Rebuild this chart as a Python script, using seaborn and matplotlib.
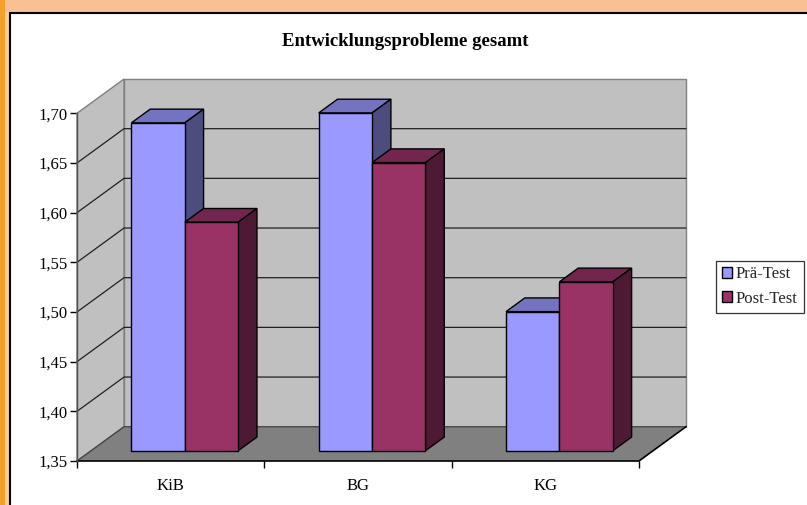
import numpy as np
import pandas as pd
import matplotlib.pyplot as plt
from matplotlib.patches import Polygon, Rectangle
from matplotlib.lines import Line2D
import seaborn as sns

# Data
groups = ['KiB', 'BG', 'KG']
series = ['Prä-Test', 'Post-Test']
pre_test = [1.68, 1.69, 1.49]
post_test = [1.58, 1.64, 1.52]
y_ticks = [1.35, 1.40, 1.45, 1.50, 1.55, 1.60, 1.65, 1.70]
title = 'Entwicklungsprobleme gesamt'

# Excel-like colours: front / top / side face
front_cols = ['#9999FF', '#993366']
top_cols = ['#7373BF', '#73264D']
side_cols = ['#4C4C7F', '#4D1933']

df = pd.DataFrame({
    'Gruppe': groups * 2,
    'Test': [series[0]] * len(groups) + [series[1]] * len(groups),
    'Wert': pre_test + post_test,
})

sns.set_theme(style='white')
plt.rcParams['font.family'] = ['Liberation Serif', 'DejaVu Serif']

W, H = 807, 505
fig = plt.figure(figsize=(W / 100, H / 100), dpi=100)
fig.patch.set_facecolor('white')

# orange frame of the original page
fig.add_artist(Rectangle((0, 1 - 12 / H), 1, 12 / H, transform=fig.transFigure,
                         fc='#F9C096', ec='none', zorder=0))
fig.add_artist(Rectangle((0, 0), 5 / W, 1, transform=fig.transFigure,
                         fc='#F5A02A', ec='none', zorder=0))
fig.add_artist(Rectangle((5 / W, 0), 4 / W, 1 - 12 / H, transform=fig.transFigure,
                         fc='#FCCF8A', ec='none', zorder=0))
fig.add_artist(Line2D([9.5 / W, 9.5 / W], [0, 1 - 12.5 / H], transform=fig.transFigure,
                      color='black', lw=1.5))
fig.add_artist(Line2D([9.5 / W, 1], [1 - 12.5 / H, 1 - 12.5 / H], transform=fig.transFigure,
                      color='black', lw=1.5))

# axes: front plane from x=77..639 px, back wall reaches 686 px
ax = fig.add_axes([77 / W, 1 - 461 / H, (686 - 77) / W, (461 - 79) / H])
ax.patch.set_visible(False)

base, top = y_ticks[0], y_ticks[-1]
x0, x1 = -0.5, len(groups) - 0.5
dx, dy = 0.251, 0.0345      # depth offset of the 3D box (data units)
z0, z1 = 0.3, 0.7           # depth range occupied by the bars

# walls and floor
ax.add_patch(Polygon([(x0, base), (x1, base), (x1 + dx, base + dy), (x0 + dx, base + dy)],
                     fc='#808080', ec='none', zorder=1, clip_on=False))
ax.add_patch(Rectangle((x0 + dx, base + dy), x1 - x0, top - base,
                       fc='#C0C0C0', ec='#808080', lw=1, zorder=1, clip_on=False))
ax.add_patch(Polygon([(x0, base), (x0 + dx, base + dy), (x0 + dx, top + dy), (x0, top)],
                     fc='#C0C0C0', ec='#808080', lw=1, zorder=1, clip_on=False))
for v in y_ticks[1:-1]:
    ax.plot([x0, x0 + dx, x1 + dx], [v, v + dy, v + dy], color='#202020', lw=0.9,
            zorder=2, clip_on=False)
ax.plot([x0, x0 + dx, x1 + dx], [base, base + dy, base + dy], color='#404040', lw=0.9,
        zorder=2, clip_on=False)
ax.plot([x0, x1, x1 + dx], [base, base, base + dy], color='black', lw=1.2,
        zorder=3, clip_on=False)

sns.barplot(data=df, x='Gruppe', y='Wert', hue='Test', palette=front_cols,
            width=0.57, saturation=1, edgecolor='black', linewidth=1,
            legend=False, ax=ax)

# turn the flat bars into boxes
ddx, ddy = (z1 - z0) * dx, (z1 - z0) * dy
for i, cont in enumerate(ax.containers):
    for bar in cont:
        bx, bw, v = bar.get_x(), bar.get_width(), bar.get_height()
        fx, fy = bx + z0 * dx, base + z0 * dy
        vt = v + z0 * dy
        bar.set_x(fx)
        bar.set_y(fy)
        bar.set_height(v - base)
        bar.set_zorder(6 + 2 * i)
        ax.add_patch(Polygon([(fx, vt), (fx + bw, vt), (fx + bw + ddx, vt + ddy), (fx + ddx, vt + ddy)],
                             fc=top_cols[i], ec='black', lw=1, zorder=5 + 2 * i, clip_on=False))
        ax.add_patch(Polygon([(fx + bw, fy), (fx + bw + ddx, fy + ddy), (fx + bw + ddx, vt + ddy), (fx + bw, vt)],
                             fc=side_cols[i], ec='black', lw=1, zorder=5 + 2 * i, clip_on=False))

ax.set_xlim(x0, x1 + dx)
ax.set_ylim(base, top + dy)
ax.set_yticks(y_ticks)
ax.set_yticklabels([f'{v:.2f}'.replace('.', ',') for v in y_ticks])
ax.set_xticks(range(len(groups)))
ax.set_xticklabels(groups)
ax.set_xticks([x0 + k for k in range(len(groups) + 1)], minor=True)
ax.set_xlabel('')
ax.set_ylabel('')

for s in ['top', 'right']:
    ax.spines[s].set_visible(False)
ax.spines['left'].set_bounds(base, top)
ax.spines['left'].set_color('#505050')
ax.spines['left'].set_linewidth(1)
ax.spines['left'].set_zorder(3)
ax.spines['bottom'].set_visible(False)

ax.tick_params(axis='y', left=True, direction='out', length=5, width=1, color='black',
               labelsize=12, pad=2, labelcolor='black')
ax.tick_params(axis='x', which='major', bottom=True, length=0, pad=12,
               labelsize=12, labelcolor='black')
ax.tick_params(axis='x', which='minor', bottom=True, direction='out', length=5,
               width=1, color='black')

fig.text(405 / W, 1 - 42 / H, title, ha='center', va='center',
         fontsize=13.5, fontweight='bold', color='black')

leg = fig.legend(handles=[c.patches[0] for c in ax.containers], labels=series,
                 loc='center left', bbox_to_anchor=(716 / W, 1 - 286.5 / H),
                 frameon=True, fancybox=False, edgecolor='black', fontsize=12,
                 handlelength=0.6, handleheight=0.6, handletextpad=0.25,
                 borderpad=0.35, borderaxespad=0, labelspacing=0.5)
leg.get_frame().set_linewidth(0.9)

fig.savefig('out.png', dpi=100)
